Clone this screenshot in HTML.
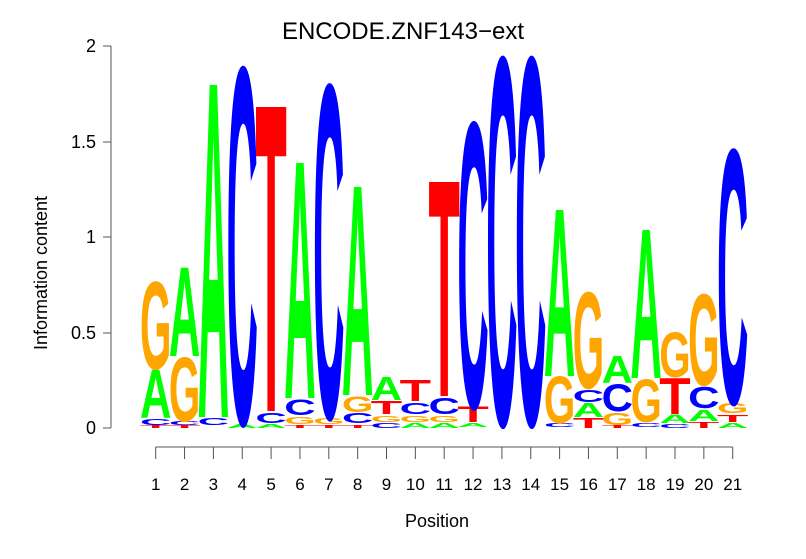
<!DOCTYPE html>
<html><head><meta charset="utf-8"><style>
body{margin:0;background:#fff}
svg{display:block}
.l{font-family:"Liberation Sans",sans-serif;font-weight:bold;font-size:106.1px}
.A{fill:#00ff00}.C{fill:#0000ff}.G{fill:#ffa500}.T{fill:#ff0000}
.ax{font-family:"Liberation Sans",sans-serif;font-size:17px;fill:#000}
</style></head><body>
<svg width="806" height="559" viewBox="0 0 806 559" xmlns="http://www.w3.org/2000/svg">
<rect width="806" height="559" fill="#fff"/>
<text x="403" y="39" text-anchor="middle" font-family="Liberation Sans,sans-serif" font-size="24">ENCODE.ZNF143−ext</text>
<g stroke="#555" stroke-width="1" fill="none">
<line x1="111" y1="46" x2="111" y2="428"/>
<line x1="103" y1="46" x2="111" y2="46"/>
<line x1="103" y1="142" x2="111" y2="142"/>
<line x1="103" y1="237" x2="111" y2="237"/>
<line x1="103" y1="333" x2="111" y2="333"/>
<line x1="103" y1="428" x2="111" y2="428"/>
<line x1="155.7" y1="447" x2="732.7" y2="447"/>
<path d="M155.7 447v12M184.55 447v12M213.4 447v12M242.25 447v12M271.1 447v12M299.95 447v12M328.8 447v12M357.65 447v12M386.5 447v12M415.35 447v12M444.2 447v12M473.05 447v12M501.9 447v12M530.75 447v12M559.6 447v12M588.45 447v12M617.3 447v12M646.15 447v12M675 447v12M703.85 447v12M732.7 447v12"/>
</g>
<g class="ax" text-anchor="end" style="font-size:18px">
<text x="96" y="52">2</text><text x="96" y="148">1.5</text><text x="96" y="243">1</text><text x="96" y="339">0.5</text><text x="96" y="434">0</text>
</g>
<text class="ax" transform="translate(47 273) rotate(-90)" text-anchor="middle" style="font-size:18px">Information content</text>
<g class="ax" text-anchor="middle">
<text x="155.7" y="490">1</text><text x="184.55" y="490">2</text><text x="213.4" y="490">3</text><text x="242.25" y="490">4</text><text x="271.1" y="490">5</text><text x="299.95" y="490">6</text><text x="328.8" y="490">7</text><text x="357.65" y="490">8</text><text x="386.5" y="490">9</text><text x="415.35" y="490">10</text><text x="444.2" y="490">11</text><text x="473.05" y="490">12</text><text x="501.9" y="490">13</text><text x="530.75" y="490">14</text><text x="559.6" y="490">15</text><text x="588.45" y="490">16</text><text x="617.3" y="490">17</text><text x="646.15" y="490">18</text><text x="675" y="490">19</text><text x="703.85" y="490">20</text><text x="732.7" y="490">21</text>
<text x="437" y="527" style="font-size:18px">Position</text>
</g>
<g class="l">
<g transform="translate(140 0)">
<text class="T" textLength="100" lengthAdjust="spacingAndGlyphs" transform="matrix(.314 0 0 .041 0 428)">T</text>
<text class="C" textLength="100" lengthAdjust="spacingAndGlyphs" transform="matrix(.314 0 0 .082 0 425)">C</text>
<text class="A" textLength="100" lengthAdjust="spacingAndGlyphs" transform="matrix(.314 0 0 .658 0 418)">A</text>
<text class="G" textLength="100" lengthAdjust="spacingAndGlyphs" transform="matrix(.314 0 0 1.178 0 369)">G</text>
</g>
<g transform="translate(168.85 0)">
<text class="T" textLength="100" lengthAdjust="spacingAndGlyphs" transform="matrix(.314 0 0 .041 0 428)">T</text>
<text class="C" textLength="100" lengthAdjust="spacingAndGlyphs" transform="matrix(.314 0 0 .055 0 425)">C</text>
<text class="G" textLength="100" lengthAdjust="spacingAndGlyphs" transform="matrix(.314 0 0 .863 0 421)">G</text>
<text class="A" textLength="100" lengthAdjust="spacingAndGlyphs" transform="matrix(.314 0 0 1.205 0 356)">A</text>
</g>
<g transform="translate(197.7 0)">
<text class="C" textLength="100" lengthAdjust="spacingAndGlyphs" transform="matrix(.314 0 0 .096 0 425)">C</text>
<text class="A" textLength="100" lengthAdjust="spacingAndGlyphs" transform="matrix(.314 0 0 4.548 0 417)">A</text>
</g>
<g transform="translate(226.55 0)">
<text class="A" textLength="100" lengthAdjust="spacingAndGlyphs" transform="matrix(.314 0 0 .055 0 428)">A</text>
<text class="C" textLength="100" lengthAdjust="spacingAndGlyphs" transform="matrix(.314 0 0 4.822 0 423)">C</text>
</g>
<g transform="translate(255.4 0)">
<text class="A" textLength="100" lengthAdjust="spacingAndGlyphs" transform="matrix(.314 0 0 .055 0 428)">A</text>
<text class="C" textLength="100" lengthAdjust="spacingAndGlyphs" transform="matrix(.314 0 0 .137 0 423)">C</text>
<text class="T" textLength="100" lengthAdjust="spacingAndGlyphs" transform="matrix(.314 0 0 4.164 0 411)">T</text>
</g>
<g transform="translate(284.25 0)">
<text class="T" textLength="100" lengthAdjust="spacingAndGlyphs" transform="matrix(.314 0 0 .041 0 428)">T</text>
<text class="G" textLength="100" lengthAdjust="spacingAndGlyphs" transform="matrix(.314 0 0 .096 0 424)">G</text>
<text class="C" textLength="100" lengthAdjust="spacingAndGlyphs" transform="matrix(.314 0 0 .205 0 415)">C</text>
<text class="A" textLength="100" lengthAdjust="spacingAndGlyphs" transform="matrix(.314 0 0 3.219 0 398)">A</text>
</g>
<g transform="translate(313.1 0)">
<text class="T" textLength="100" lengthAdjust="spacingAndGlyphs" transform="matrix(.314 0 0 .041 0 428)">T</text>
<text class="G" textLength="100" lengthAdjust="spacingAndGlyphs" transform="matrix(.314 0 0 .082 0 424)">G</text>
<text class="C" textLength="100" lengthAdjust="spacingAndGlyphs" transform="matrix(.314 0 0 4.507 0 417)">C</text>
</g>
<g transform="translate(341.95 0)">
<text class="T" textLength="100" lengthAdjust="spacingAndGlyphs" transform="matrix(.314 0 0 .041 0 428)">T</text>
<text class="C" textLength="100" lengthAdjust="spacingAndGlyphs" transform="matrix(.314 0 0 .137 0 423)">C</text>
<text class="G" textLength="100" lengthAdjust="spacingAndGlyphs" transform="matrix(.314 0 0 .205 0 412)">G</text>
<text class="A" textLength="100" lengthAdjust="spacingAndGlyphs" transform="matrix(.314 0 0 2.849 0 395)">A</text>
</g>
<g transform="translate(370.8 0)">
<text class="C" textLength="100" lengthAdjust="spacingAndGlyphs" transform="matrix(.314 0 0 .068 0 428)">C</text>
<text class="G" textLength="100" lengthAdjust="spacingAndGlyphs" transform="matrix(.314 0 0 .082 0 422)">G</text>
<text class="T" textLength="100" lengthAdjust="spacingAndGlyphs" transform="matrix(.314 0 0 .178 0 414)">T</text>
<text class="A" textLength="100" lengthAdjust="spacingAndGlyphs" transform="matrix(.314 0 0 .315 0 400)">A</text>
</g>
<g transform="translate(399.65 0)">
<text class="A" textLength="100" lengthAdjust="spacingAndGlyphs" transform="matrix(.314 0 0 .068 0 428)">A</text>
<text class="G" textLength="100" lengthAdjust="spacingAndGlyphs" transform="matrix(.314 0 0 .082 0 422)">G</text>
<text class="C" textLength="100" lengthAdjust="spacingAndGlyphs" transform="matrix(.314 0 0 .151 0 414)">C</text>
<text class="T" textLength="100" lengthAdjust="spacingAndGlyphs" transform="matrix(.314 0 0 .288 0 401)">T</text>
</g>
<g transform="translate(428.5 0)">
<text class="A" textLength="100" lengthAdjust="spacingAndGlyphs" transform="matrix(.314 0 0 .068 0 428)">A</text>
<text class="G" textLength="100" lengthAdjust="spacingAndGlyphs" transform="matrix(.314 0 0 .082 0 422)">G</text>
<text class="C" textLength="100" lengthAdjust="spacingAndGlyphs" transform="matrix(.314 0 0 .219 0 414)">C</text>
<text class="T" textLength="100" lengthAdjust="spacingAndGlyphs" transform="matrix(.314 0 0 2.932 0 396)">T</text>
</g>
<g transform="translate(457.35 0)">
<text class="A" textLength="100" lengthAdjust="spacingAndGlyphs" transform="matrix(.314 0 0 .055 0 427)">A</text>
<text class="T" textLength="100" lengthAdjust="spacingAndGlyphs" transform="matrix(.314 0 0 .205 0 422)">T</text>
<text class="C" textLength="100" lengthAdjust="spacingAndGlyphs" transform="matrix(.314 0 0 3.863 0 407)">C</text>
</g>
<g transform="translate(486.2 0)">
<text class="C" textLength="100" lengthAdjust="spacingAndGlyphs" transform="matrix(.314 0 0 4.973 0 424)">C</text>
</g>
<g transform="translate(515.05 0)">
<text class="C" textLength="100" lengthAdjust="spacingAndGlyphs" transform="matrix(.314 0 0 4.973 0 424)">C</text>
</g>
<g transform="translate(543.9 0)">
<text class="C" textLength="100" lengthAdjust="spacingAndGlyphs" transform="matrix(.314 0 0 .055 0 427)">C</text>
<text class="G" textLength="100" lengthAdjust="spacingAndGlyphs" transform="matrix(.314 0 0 .63 0 423)">G</text>
<text class="A" textLength="100" lengthAdjust="spacingAndGlyphs" transform="matrix(.314 0 0 2.274 0 376)">A</text>
</g>
<g transform="translate(572.75 0)">
<text class="T" textLength="100" lengthAdjust="spacingAndGlyphs" transform="matrix(.314 0 0 .137 0 428)">T</text>
<text class="A" textLength="100" lengthAdjust="spacingAndGlyphs" transform="matrix(.314 0 0 .192 0 417)">A</text>
<text class="C" textLength="100" lengthAdjust="spacingAndGlyphs" transform="matrix(.314 0 0 .164 0 402)">C</text>
<text class="G" textLength="100" lengthAdjust="spacingAndGlyphs" transform="matrix(.314 0 0 1.301 0 388)">G</text>
</g>
<g transform="translate(601.6 0)">
<text class="T" textLength="100" lengthAdjust="spacingAndGlyphs" transform="matrix(.314 0 0 .041 0 428)">T</text>
<text class="G" textLength="100" lengthAdjust="spacingAndGlyphs" transform="matrix(.314 0 0 .164 0 425)">G</text>
<text class="C" textLength="100" lengthAdjust="spacingAndGlyphs" transform="matrix(.314 0 0 .37 0 411)">C</text>
<text class="A" textLength="100" lengthAdjust="spacingAndGlyphs" transform="matrix(.314 0 0 .37 0 383)">A</text>
</g>
<g transform="translate(630.45 0)">
<text class="C" textLength="100" lengthAdjust="spacingAndGlyphs" transform="matrix(.314 0 0 .055 0 427)">C</text>
<text class="G" textLength="100" lengthAdjust="spacingAndGlyphs" transform="matrix(.314 0 0 .575 0 422)">G</text>
<text class="A" textLength="100" lengthAdjust="spacingAndGlyphs" transform="matrix(.314 0 0 2.027 0 378)">A</text>
</g>
<g transform="translate(659.3 0)">
<text class="C" textLength="100" lengthAdjust="spacingAndGlyphs" transform="matrix(.314 0 0 .055 0 428)">C</text>
<text class="A" textLength="100" lengthAdjust="spacingAndGlyphs" transform="matrix(.314 0 0 .11 0 423)">A</text>
<text class="T" textLength="100" lengthAdjust="spacingAndGlyphs" transform="matrix(.314 0 0 .493 0 414)">T</text>
<text class="G" textLength="100" lengthAdjust="spacingAndGlyphs" transform="matrix(.314 0 0 .603 0 377)">G</text>
</g>
<g transform="translate(688.15 0)">
<text class="T" textLength="100" lengthAdjust="spacingAndGlyphs" transform="matrix(.314 0 0 .082 0 428)">T</text>
<text class="A" textLength="100" lengthAdjust="spacingAndGlyphs" transform="matrix(.314 0 0 .151 0 421)">A</text>
<text class="C" textLength="100" lengthAdjust="spacingAndGlyphs" transform="matrix(.314 0 0 .288 0 408)">C</text>
<text class="G" textLength="100" lengthAdjust="spacingAndGlyphs" transform="matrix(.314 0 0 1.233 0 385)">G</text>
</g>
<g transform="translate(717 0)">
<text class="A" textLength="100" lengthAdjust="spacingAndGlyphs" transform="matrix(.314 0 0 .068 0 428)">A</text>
<text class="T" textLength="100" lengthAdjust="spacingAndGlyphs" transform="matrix(.314 0 0 .096 0 422)">T</text>
<text class="G" textLength="100" lengthAdjust="spacingAndGlyphs" transform="matrix(.314 0 0 .137 0 413)">G</text>
<text class="C" textLength="100" lengthAdjust="spacingAndGlyphs" transform="matrix(.314 0 0 3.438 0 403)">C</text>
</g>
</g>
</svg>
</body></html>
